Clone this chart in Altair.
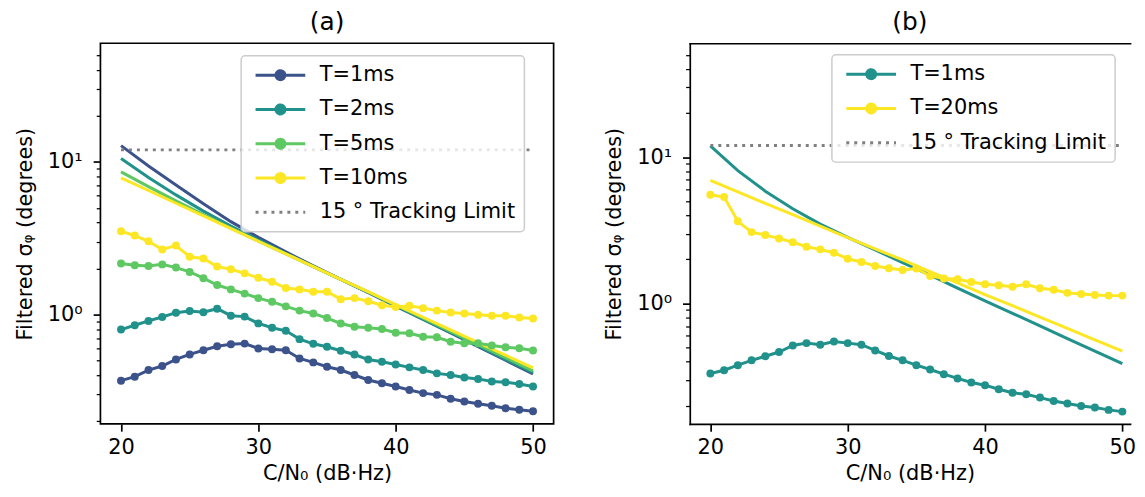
import altair as alt
import pandas as pd

FONT = "DejaVu Sans"

cn0 = list(range(20, 51))
cn0_theory = [20, 22, 24, 26, 28, 30, 32, 34, 36, 38, 40, 42, 44, 46, 48, 50]

# ---- panel (a) ----
a_labels = ["T=1ms", "T=2ms", "T=5ms", "T=10ms"]
a_colors = ["#3b528b", "#21918c", "#5ec962", "#fde725"]
a_sim = {
    "T=1ms": [0.368, 0.391, 0.432, 0.459, 0.507, 0.547, 0.583, 0.619, 0.638, 0.644, 0.598,
              0.592, 0.583, 0.515, 0.485, 0.454, 0.432, 0.401, 0.372, 0.354, 0.337, 0.320,
              0.305, 0.297, 0.280, 0.269, 0.260, 0.252, 0.243, 0.237, 0.232],
    "T=2ms": [0.796, 0.850, 0.907, 0.963, 1.027, 1.053, 1.033, 1.091, 0.982, 0.968, 0.874,
              0.819, 0.781, 0.689, 0.642, 0.614, 0.578, 0.546, 0.506, 0.490, 0.470, 0.450,
              0.432, 0.411, 0.401, 0.386, 0.378, 0.363, 0.359, 0.350, 0.337],
    "T=5ms": [2.16, 2.10, 2.08, 2.13, 2.03, 1.90, 1.73, 1.56, 1.46, 1.37, 1.28, 1.21, 1.13,
              1.06, 1.015, 0.947, 0.873, 0.831, 0.818, 0.802, 0.759, 0.752, 0.715, 0.708,
              0.663, 0.647, 0.647, 0.625, 0.609, 0.600, 0.580],
    "T=10ms": [3.51, 3.29, 3.02, 2.67, 2.83, 2.39, 2.33, 2.06, 1.98, 1.86, 1.74, 1.64, 1.49,
               1.46, 1.41, 1.41, 1.26, 1.28, 1.22, 1.15, 1.12, 1.14, 1.10, 1.06, 1.03, 1.015,
               0.995, 0.98, 0.98, 0.956, 0.942],
}
a_theory = {
    "T=1ms": [12.79, 9.40, 7.06, 5.32, 4.06, 3.20, 2.57, 2.08, 1.70, 1.39, 1.135, 0.927,
              0.757, 0.615, 0.501, 0.407],
    "T=2ms": [10.52, 7.91, 6.08, 4.76, 3.80, 3.08, 2.52, 2.06, 1.70, 1.40, 1.14, 0.933,
              0.762, 0.622, 0.508, 0.415],
    "T=5ms": [8.61, 6.89, 5.55, 4.51, 3.68, 3.02, 2.50, 2.06, 1.70, 1.40, 1.15, 0.944,
              0.774, 0.635, 0.521, 0.427],
    "T=10ms": [7.87, 6.50, 5.36, 4.43, 3.66, 3.02, 2.50, 2.06, 1.70, 1.41, 1.16, 0.959,
               0.792, 0.655, 0.541, 0.447],
}

# ---- panel (b) ----
b_labels = ["T=1ms", "T=20ms"]
b_colors = ["#21918c", "#fde725"]
b_sim = {
    "T=1ms": [0.332, 0.349, 0.378, 0.408, 0.435, 0.465, 0.516, 0.535, 0.522, 0.549, 0.535,
              0.522, 0.477, 0.437, 0.408, 0.378, 0.353, 0.328, 0.307, 0.288, 0.276, 0.259,
              0.245, 0.239, 0.227, 0.215, 0.207, 0.199, 0.194, 0.187, 0.182],
    "T=20ms": [5.53, 5.33, 3.64, 3.07, 2.93, 2.78, 2.62, 2.44, 2.34, 2.22, 2.02, 1.92, 1.80,
               1.74, 1.69, 1.73, 1.54, 1.48, 1.46, 1.40, 1.35, 1.33, 1.30, 1.35, 1.27, 1.24,
               1.18, 1.16, 1.14, 1.13, 1.13],
}
b_theory = {
    "T=1ms": [11.94, 8.07, 5.85, 4.44, 3.48, 2.83, 2.32, 1.90, 1.56, 1.27, 1.04, 0.855,
              0.701, 0.575, 0.472, 0.387],
    "T=20ms": [6.92, 5.78, 4.83, 4.04, 3.38, 2.82, 2.36, 1.98, 1.65, 1.38, 1.15, 0.964,
               0.805, 0.674, 0.564, 0.471],
}

limit_label = "15 ° Tracking Limit"
limit_x = [20, 50]
limit_value = 12.0
limit_color = "#808080"

y_ticks = [0.2, 0.3, 0.4, 0.5, 0.6, 0.7, 0.8, 0.9, 1, 2, 3, 4, 5, 6, 7, 8, 9,
           10, 20, 30, 40, 50]
x_ticks = [20, 30, 40, 50]

# legend symbol paths (units of sqrt(size)/2 = 5px)
LINE_PATH = "M-1,0L9,0"
MARK_PATH = "M-1,0L9,0M3.1,0A0.9,0.9,0,1,1,4.9,0A0.9,0.9,0,1,1,3.1,0Z"

LEGEND_ENCODES = []


def long_df(xs, d):
    rows = []
    for k, vals in d.items():
        for xv, yv in zip(xs, vals):
            rows.append({"x": xv, "y": yv, "series": k})
    return pd.DataFrame(rows)


def legend_encode(labels, colors):
    is_lim = f"datum.value === '{limit_label}'"
    fill_rules = [{"test": f"datum.value === '{l}'", "value": c}
                  for l, c in zip(labels, colors)] + [{"value": "transparent"}]
    stroke_rules = [{"test": f"datum.value === '{l}'", "value": c}
                    for l, c in zip(labels, colors)] + [{"value": limit_color}]
    return {
        "symbols": {"update": {
            "shape": [{"test": is_lim, "value": LINE_PATH}, {"value": MARK_PATH}],
            "strokeDash": [{"test": is_lim, "value": [3, 5]}, {"value": [1, 0]}],
            "fill": fill_rules,
            "stroke": stroke_rules,
            "strokeWidth": {"value": 3},
            "size": {"value": 100},
            "opacity": {"value": 1},
            "fillOpacity": {"value": 1},
        }},
        "legend": {"update": {"strokeWidth": {"value": 1.5}}},
    }


def panel(title, labels, colors, sim, theory, ydom, xdom, width, lx, ly, open_right):
    domain = labels + [limit_label]
    rng = colors + [limit_color]
    cscale = alt.Scale(domain=domain, range=rng)
    LEGEND_ENCODES.append(legend_encode(labels, colors))

    legend = alt.Legend(
        title=None, orient="none", legendX=lx, legendY=ly,
        labelFont=FONT, labelFontSize=21, labelColor="black", labelLimit=0,
        labelOffset=49, rowPadding=11.5, padding=9,
        fillColor="rgba(255,255,255,0.8)", strokeColor="#cccccc",
        cornerRadius=4, symbolSize=100, symbolStrokeWidth=3,
    )

    dom = dict(domain=True, domainColor="black", domainWidth=1.7, domainCap="square") \
        if open_right else dict(domain=False)
    xscale = alt.Scale(domain=xdom, nice=False, zero=False)
    xaxis = alt.Axis(values=x_ticks, title="C/N₀ (dB·Hz)", grid=False,
                     tickSize=7.3, tickWidth=1.7,
                     tickColor="black", labelFont=FONT, labelFontSize=21,
                     labelColor="black", labelPadding=5, titleFont=FONT,
                     titleFontSize=21, titleFontWeight="normal",
                     titleColor="black", titlePadding=6, format="d", **dom)
    xenc = alt.X("x:Q", scale=xscale, axis=xaxis)
    x_noaxis = alt.X("x:Q", scale=xscale, axis=None) if open_right else xenc
    x_top = alt.X("x:Q", scale=xscale,
                  axis=alt.Axis(orient="top", labels=False, ticks=False, title=None,
                                grid=False, domain=True, domainColor="black",
                                domainWidth=1.7, domainCap="square")) if open_right else xenc
    yenc = alt.Y("y:Q", scale=alt.Scale(type="log", domain=ydom, nice=False),
                 axis=alt.Axis(values=y_ticks, title="Filtered σᵩ (degrees)", grid=False,
                               tickSize={"condition": {"test": "datum.value === 1 || datum.value === 10", "value": 7.3}, "value": 4.2},
                               tickWidth={"condition": {"test": "datum.value === 1 || datum.value === 10", "value": 1.7}, "value": 1.25},
                               tickColor="black",
                               labelExpr="datum.value === 1 ? '10⁰' : (datum.value === 10 ? '10¹' : '')",
                               labelOverlap=False, labelFlush=False,
                               labelFont=FONT, labelFontSize=21, labelColor="black",
                               labelPadding=11, titleFont=FONT, titleFontSize=21,
                               titleFontWeight="normal", titleColor="black",
                               titlePadding=12, **dom))
    color = alt.Color("series:N", scale=cscale, legend=legend)

    sim_df = long_df(cn0, sim)
    th_df = long_df(cn0_theory, theory)
    lim_df = pd.DataFrame({"x": limit_x, "y": [limit_value] * 2, "series": [limit_label] * 2})

    theory_l = alt.Chart(th_df).mark_line(strokeWidth=3).encode(
        x=xenc, y=yenc, color=color, detail="series:N")
    sim_l = alt.Chart(sim_df).mark_line(strokeWidth=3).encode(
        x=x_noaxis, y=yenc, color=color, detail="series:N")
    sim_p = alt.Chart(sim_df).mark_point(filled=True, size=64, opacity=1).encode(
        x=x_noaxis, y=yenc, color=color)
    lim_l = alt.Chart(lim_df).mark_line(strokeWidth=3, strokeDash=[3, 5]).encode(
        x=x_top, y=yenc, color=color)

    ch = alt.layer(theory_l, sim_l, sim_p, lim_l)
    props = dict(
        width=width, height=383,
        title=alt.TitleParams(title, font=FONT, fontSize=25, fontWeight="normal",
                              color="black", anchor="middle", offset=8, frame="group"))
    if open_right:
        # the reference crops this panel at its right edge: frame drawn on 3 sides
        ch = ch.resolve_axis(x="independent")
        props["view"] = alt.ViewBackground(stroke="transparent")
    return ch.properties(**props)


pa = panel("(a)", a_labels, a_colors, a_sim, a_theory, [0.1916, 60], [18.5, 51.5], 456,
           141.6, 12.6, False)
pb = panel("(b)", b_labels, b_colors, b_sim, b_theory, [0.150, 60], [18.5, 50.56], 443,
           143, 11.6, True)

chart = alt.hconcat(pa, pb, spacing=48).resolve_scale(
    color="independent", x="independent", y="independent"
).resolve_legend(color="independent").properties(
    padding={"left": 5, "top": 0, "right": 0, "bottom": 0},
    background="white",
).configure_view(stroke="black", strokeWidth=1.7)


class _PatchedHConcat(alt.HConcatChart):
    # Vega-Lite passes a legend "encode" block through to Vega although its
    # JSON schema hides it, so it is added to the finished spec here.
    def to_dict(self, *args, **kwargs):
        d = super().to_dict(*args, **kwargs)
        for i, sub in enumerate(d.get("hconcat", [])):
            for lyr in sub.get("layer", []):
                leg = lyr.get("encoding", {}).get("color", {}).get("legend")
                if isinstance(leg, dict):
                    leg["encode"] = LEGEND_ENCODES[i]
        return d


object.__setattr__(chart, "__class__", _PatchedHConcat)
chart.save("out.html", embed_options={"renderer": "svg", "actions": False})
